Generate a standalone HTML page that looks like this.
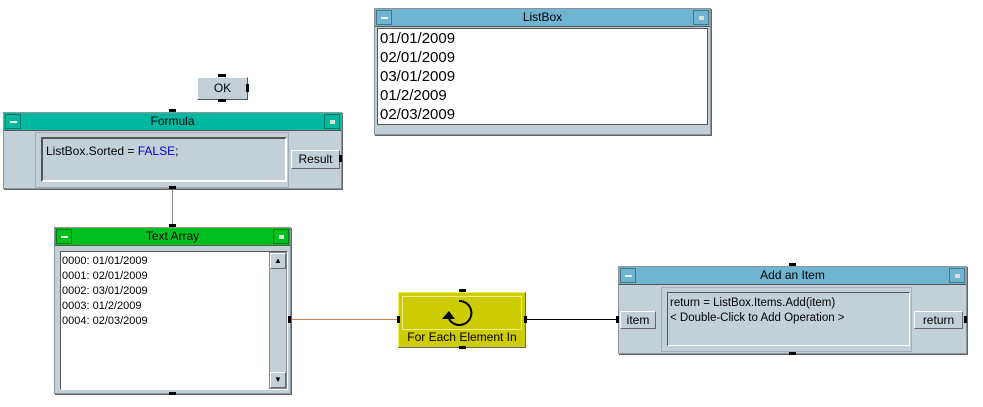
<!DOCTYPE html>
<html><head><meta charset="utf-8"><style>
*{box-sizing:border-box;margin:0;padding:0}
body{width:983px;height:407px;background:#fff;position:relative;overflow:hidden;font-family:"Liberation Sans",sans-serif;font-size:12px;color:#000}
.a{position:absolute}
.win{position:absolute;background:#c4d0d8;border:1px solid #8a949a;box-shadow:1px 1px 0 #666}
.tb{position:absolute;left:0;right:0;top:0;height:18px;text-align:center;line-height:17px;font-size:12px;border-bottom:1px solid #555}
.tb .l,.tb .r{position:absolute;top:1px;width:16px;height:15px;border:1px solid rgba(0,0,0,.35)}
.tb .l{left:1px}.tb .r{right:1px}
.tb .l:after{content:"";position:absolute;left:4px;top:6px;width:7px;height:2px;background:#eee}
.tb .r:after{content:"";position:absolute;left:5px;top:5px;width:5px;height:4px;background:#ddd}
.btn{position:absolute;background:#c4d0d8;border:1px solid;border-color:#fff #666 #666 #fff;text-align:center;font-size:12px}
.sunk{position:absolute;border:2px solid;border-color:#555 #fff #fff #555}
.pin{position:absolute;background:#000}
</style></head><body>
<!-- lines -->
<div class="a" style="left:172px;top:188px;width:1px;height:40px;background:#888"></div>
<div class="a" style="left:290px;top:319px;width:109px;height:1px;background:#d08050"></div>
<div class="a" style="left:525px;top:319px;width:93px;height:1px;background:#000"></div>

<!-- OK -->
<div class="btn" style="left:197px;top:77px;width:51px;height:23px;line-height:21px;border-color:#fff #555 #555 #fff">OK</div>
<div class="pin" style="left:218px;top:74px;width:8px;height:3px"></div>
<div class="pin" style="left:218px;top:99px;width:8px;height:3px"></div>
<div class="pin" style="left:246px;top:84px;width:3px;height:8px"></div>

<!-- Formula -->
<div class="win" style="left:3px;top:112px;width:339px;height:77px">
 <div class="tb" style="background:#00b8a0"><span class="l"></span>Formula<span class="r"></span></div>
 <div class="a" style="left:31px;top:19px;width:254px;height:56px;background:#c4d0d8;border:1px solid #aab"></div>
 <div class="sunk" style="left:37px;top:24px;width:246px;height:45px;background:#c4d0d8;padding:5px 3px;font-size:12px">ListBox.Sorted = <span style="color:#0000cc">FALSE</span>;</div>
 <div class="btn" style="left:287px;top:37px;width:49px;height:19px;line-height:17px">Result</div>
</div>
<div class="pin" style="left:169px;top:109px;width:7px;height:3px"></div>
<div class="pin" style="left:169px;top:186px;width:7px;height:3px"></div>
<div class="pin" style="left:339px;top:155px;width:3px;height:7px"></div>

<!-- ListBox -->
<div class="win" style="left:374px;top:8px;width:337px;height:127px">
 <div class="tb" style="background:#6fb4d0"><span class="l"></span>ListBox<span class="r"></span></div>
 <div class="a" style="left:2px;top:19px;width:331px;height:97px;background:#fff;border:1px solid #555;padding-left:2px;font-size:15px;line-height:19px">01/01/2009<br>02/01/2009<br>03/01/2009<br>01/2/2009<br>02/03/2009</div>
</div>

<!-- Text Array -->
<div class="win" style="left:54px;top:227px;width:237px;height:167px">
 <div class="tb" style="background:#00c020"><span class="l"></span>Text Array<span class="r"></span></div>
 <div class="sunk" style="left:5px;top:23px;width:228px;height:139px;background:#fff;padding:2px 1px;font-size:11px;line-height:15px;border-width:1px">0000: 01/01/2009<br>0001: 02/01/2009<br>0002: 03/01/2009<br>0003: 01/2/2009<br>0004: 02/03/2009</div>
 <div class="a" style="left:214px;top:24px;width:18px;height:137px;background:#c4d0d8;border:1px solid #888">
  <div class="btn" style="left:0;top:0;width:16px;height:16px;font-size:8px;line-height:14px">▲</div>
  <div class="btn" style="left:0;bottom:0;width:16px;height:16px;font-size:8px;line-height:14px">▼</div>
 </div>
</div>
<div class="pin" style="left:169px;top:224px;width:7px;height:3px"></div>
<div class="pin" style="left:169px;top:392px;width:7px;height:3px"></div>
<div class="pin" style="left:288px;top:316px;width:3px;height:7px"></div>

<!-- For Each -->
<div class="a" style="left:398px;top:292px;width:128px;height:56px;background:#cccc00;border:1px solid;border-color:#eeee66 #666 #666 #eeee66">
 <div class="a" style="left:3px;top:3px;width:120px;height:34px;border:1px solid #eeee88"></div>
 <svg class="a" style="left:40px;top:4px" width="44" height="34"><path d="M20 4 A 12 12 0 1 1 10 22" fill="none" stroke="#000" stroke-width="2"/><polygon points="3,22 16,22 10,14" fill="#000"/></svg>
 <div class="a" style="left:0;top:37px;width:126px;text-align:center;font-size:12px">For Each Element In</div>
</div>
<div class="pin" style="left:459px;top:289px;width:7px;height:3px"></div>
<div class="pin" style="left:459px;top:346px;width:7px;height:3px"></div>
<div class="pin" style="left:397px;top:316px;width:3px;height:7px"></div>
<div class="pin" style="left:524px;top:316px;width:3px;height:7px"></div>

<!-- Add an Item -->
<div class="win" style="left:618px;top:266px;width:349px;height:88px">
 <div class="tb" style="background:#6fb4d0"><span class="l"></span>Add an Item<span class="r"></span></div>
 <div class="btn" style="left:1px;top:44px;width:36px;height:18px;line-height:16px">item</div>
 <div class="a" style="left:42px;top:20px;width:251px;height:65px;background:#c4d0d8;border:1px solid #aab"></div>
 <div class="sunk" style="left:48px;top:25px;width:243px;height:54px;background:#c4d0d8;padding:3px 2px;font-size:11.5px;line-height:15px;border-width:1px">return = ListBox.Items.Add(item)<br>&lt; Double-Click to Add Operation &gt;</div>
 <div class="btn" style="left:295px;top:44px;width:49px;height:18px;line-height:16px">return</div>
</div>
<div class="pin" style="left:789px;top:263px;width:7px;height:3px"></div>
<div class="pin" style="left:789px;top:352px;width:7px;height:3px"></div>
<div class="pin" style="left:616px;top:316px;width:3px;height:7px"></div>
<div class="pin" style="left:964px;top:316px;width:3px;height:7px"></div>
</body></html>
